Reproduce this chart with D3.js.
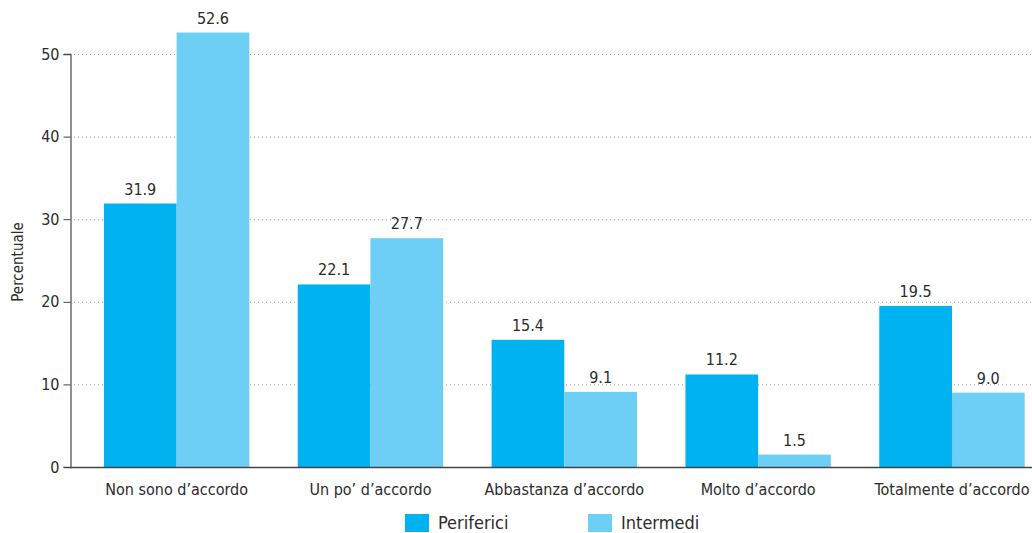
<!DOCTYPE html>
<html>
<head>
<meta charset="utf-8">
<script src="https://cdn.jsdelivr.net/npm/d3@7"></script>
<style>
  body { margin: 0; background: #fff; }
  svg text { font-family: "Liberation Sans Narrow", "DejaVu Sans Condensed", sans-serif; fill: #2b2b2b; }
</style>
</head>
<body>
<script>
// data
var categories = ["Non sono d\u2019accordo", "Un po\u2019 d\u2019accordo", "Abbastanza d\u2019accordo", "Molto d\u2019accordo", "Totalmente d\u2019accordo"];
var seriesNames = ["Periferici", "Intermedi"];
var periferici = [31.9, 22.1, 15.4, 11.2, 19.5];
var intermedi = [52.6, 27.7, 9.1, 1.5, 9.0];
var yTicks = [0, 10, 20, 30, 40, 50];
var colors = ["#00b2ef", "#6dcff6"];

var width = 1032, height = 533;
var plotLeft = 70, plotRight = 1032, plotTop = 54, plotBottom = 467;

var svg = d3.select("body").append("svg")
    .attr("width", width)
    .attr("height", height);

var y = d3.scaleLinear().domain([0, 50]).range([plotBottom, plotTop]);
var x = d3.scaleBand().domain(categories)
    .range([plotLeft, 1058.6])
    .paddingInner(0.25)
    .paddingOuter(0.175);
var xs = d3.scaleBand().domain(seriesNames).range([0, x.bandwidth()]);

// grid
svg.append("g").selectAll("line").data(yTicks.filter(function (d) { return d > 0; })).enter().append("line")
    .attr("x1", plotLeft + 4).attr("x2", plotRight)
    .attr("y1", function (d) { return y(d) + 0.5; })
    .attr("y2", function (d) { return y(d) + 0.5; })
    .attr("stroke", "#999")
    .attr("stroke-width", 1)
    .attr("stroke-dasharray", "1,3");

var rows = categories.map(function (c, i) {
    return { cat: c, vals: [periferici[i], intermedi[i]] };
});

var groups = svg.append("g").selectAll("g").data(rows).enter().append("g")
    .attr("transform", function (d) { return "translate(" + x(d.cat) + ",0)"; });

groups.selectAll("rect").data(function (d) { return d.vals; }).enter().append("rect")
    .attr("x", function (d, i) { return xs(seriesNames[i]); })
    .attr("width", xs.bandwidth())
    .attr("y", function (d) { return y(d); })
    .attr("height", function (d) { return plotBottom - y(d); })
    .attr("fill", function (d, i) { return colors[i]; });

groups.selectAll("text").data(function (d) { return d.vals; }).enter().append("text")
    .attr("x", function (d, i) { return xs(seriesNames[i]) + xs.bandwidth() / 2; })
    .attr("y", function (d) { return y(d) - 9; })
    .attr("text-anchor", "middle")
    .style("font-size", "16px")
    .text(function (d) { return d.toFixed(1); });

// baseline
svg.append("line")
    .attr("x1", plotLeft).attr("x2", plotRight)
    .attr("y1", plotBottom + 0.5).attr("y2", plotBottom + 0.5)
    .attr("stroke", "#444").attr("stroke-width", 1.3);

// y axis
var yAxis = d3.axisLeft(y).tickValues(yTicks).tickSize(7).tickPadding(4);
var gy = svg.append("g").attr("transform", "translate(" + (plotLeft + 0.5) + ",0)").call(yAxis);
gy.select(".domain").attr("stroke", "#555").attr("stroke-width", 1.3);
gy.selectAll(".tick line").attr("stroke", "#444");
gy.selectAll(".tick text").style("font-size", "16px").attr("fill", "#2b2b2b");

// x labels
svg.append("g").selectAll("text").data(categories).enter().append("text")
    .attr("x", function (d) { return x(d) + x.bandwidth() / 2; })
    .attr("y", 495)
    .attr("text-anchor", "middle")
    .style("font-size", "16px")
    .text(function (d) { return d; });

// y title
svg.append("text")
    .attr("transform", "translate(23,262) rotate(-90)")
    .attr("text-anchor", "middle")
    .style("font-size", "15px")
    .text("Percentuale");

// legend
var legendX = [405, 588];
var lg = svg.append("g").selectAll("g").data(seriesNames).enter().append("g")
    .attr("transform", function (d, i) { return "translate(" + legendX[i] + ",514)"; });
lg.append("rect").attr("width", 24).attr("height", 18)
    .attr("fill", function (d, i) { return colors[i]; });
lg.append("text").attr("x", 33).attr("y", 15)
    .style("font-size", "18px")
    .text(function (d) { return d; });
</script>
</body>
</html>
